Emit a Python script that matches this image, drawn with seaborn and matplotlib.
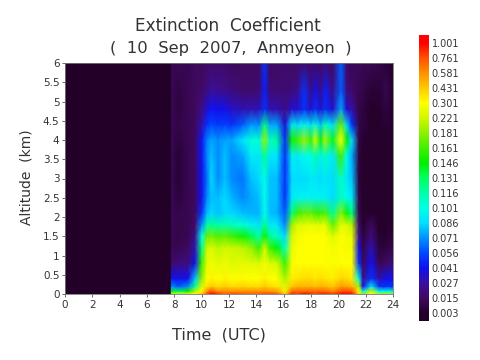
import numpy as np
import matplotlib
matplotlib.use("Agg")
import matplotlib.pyplot as plt
import seaborn as sns

sns.set_theme(style="ticks")
plt.rcParams['font.family'] = ['DejaVu Sans']

level_labels = ["0.003","0.015","0.027","0.041","0.056","0.071","0.086","0.101","0.116","0.131",
                "0.146","0.161","0.181","0.221","0.301","0.431","0.581","0.761","1.001"]
level_values = [float(v) for v in level_labels]
level_colors = ["#230029","#400a62","#3a10a0","#1010f0","#0048ff","#0090ff","#00e0ff","#00ffe8","#00ffa8","#00ff60",
                "#00f000","#40f000","#90f000","#d0f800","#ffff00","#ffc800","#ff9000","#ff5000","#ff0000"]

altitudes = [0,.07,.2,.4,.8,1.2,1.5,1.8,2.1,2.5,3,3.6,4,4.4,4.8,5.3,6]
times = [0,7.7,7.8,8.3,9,9.5,10,10.4,10.7,11.2,11.7,12.2,13,13.6,14.2,14.6,15,15.5,16.1,16.6,
         17,17.5,18,18.3,18.7,19,19.6,20.2,20.6,21,21.5,21.8,22.4,23,23.5,24]
bg = .003
profiles = [
 [bg]*17,
 [bg]*17,
 [.22,.14,.07,.04,.016,.012,.012,.012,.012,.012,.012,.012,.012,.012,.012,.012,.012],
 [.25,.13,.06,.04,.02,.012,.01,.01,.01,.008,.006,.006,.008,.01,.008,.009,.012],
 [.26,.15,.07,.04,.02,.015,.012,.012,.012,.012,.012,.012,.012,.012,.012,.012,.012],
 [.3,.2,.12,.08,.04,.03,.022,.016,.014,.014,.014,.014,.014,.014,.014,.014,.014],
 [.43,.3,.23,.18,.16,.125,.1,.07,.05,.04,.04,.042,.042,.03,.022,.016,.014],
 [.8,.6,.36,.3,.26,.22,.17,.115,.08,.07,.065,.07,.068,.05,.036,.021,.016],
 [1,.76,.43,.33,.28,.24,.175,.12,.085,.08,.085,.08,.075,.056,.042,.026,.016],
 [.9,.58,.38,.3,.25,.21,.165,.115,.08,.08,.07,.07,.07,.052,.04,.024,.016],
 [.7,.6,.42,.33,.27,.22,.17,.115,.085,.085,.08,.08,.075,.054,.04,.022,.016],
 [.8,.58,.38,.3,.24,.22,.16,.11,.085,.078,.07,.07,.075,.05,.034,.02,.014],
 [.75,.58,.4,.31,.26,.21,.15,.105,.08,.07,.065,.075,.088,.06,.03,.017,.015],
 [.7,.58,.38,.3,.25,.19,.135,.095,.078,.075,.08,.092,.105,.072,.03,.017,.015],
 [.75,.58,.38,.3,.24,.16,.115,.088,.078,.08,.085,.09,.105,.07,.032,.018,.015],
 [.8,.6,.43,.33,.28,.22,.15,.12,.1,.1,.1,.12,.19,.125,.05,.045,.05],
 [.8,.58,.38,.3,.24,.16,.12,.09,.08,.08,.08,.09,.11,.075,.03,.018,.015],
 [.75,.55,.36,.3,.23,.145,.11,.09,.078,.08,.08,.09,.12,.075,.03,.018,.016],
 [.43,.33,.24,.2,.16,.11,.085,.07,.06,.05,.05,.05,.05,.036,.022,.018,.018],
 [.9,.7,.43,.34,.28,.26,.23,.19,.125,.09,.085,.095,.15,.09,.035,.02,.015],
 [.8,.7,.48,.36,.3,.3,.28,.24,.16,.095,.085,.09,.16,.085,.035,.022,.016],
 [1,.7,.48,.38,.3,.3,.3,.25,.17,.095,.085,.1,.19,.095,.05,.05,.018],
 [.9,.7,.48,.38,.3,.3,.3,.27,.17,.095,.09,.1,.16,.085,.035,.022,.016],
 [.8,.7,.45,.36,.3,.3,.3,.26,.16,.095,.09,.115,.23,.105,.05,.04,.016],
 [.9,.72,.48,.38,.3,.3,.3,.25,.16,.095,.085,.095,.15,.08,.035,.022,.016],
 [.95,.7,.48,.36,.3,.3,.3,.27,.165,.095,.09,.11,.2,.11,.05,.045,.018],
 [.85,.6,.43,.34,.29,.28,.24,.17,.12,.085,.085,.09,.14,.085,.035,.022,.015],
 [1,.76,.55,.4,.3,.3,.3,.25,.18,.11,.11,.16,.3,.17,.075,.06,.06],
 [1,.8,.52,.38,.3,.28,.28,.24,.15,.1,.09,.1,.15,.085,.035,.022,.016],
 [.95,.76,.48,.35,.3,.28,.26,.2,.125,.09,.08,.075,.085,.05,.028,.016,.012],
 [.4,.3,.2,.1,.05,.04,.025,.018,.012,.01,.008,.008,.01,.01,.01,.012,.014],
 [.18,.1,.04,.025,.014,.01,.008,.005,.004,.004,.004,.004,.005,.008,.008,.01,.012],
 [.3,.22,.09,.05,.04,.03,.02,.014,.005,.004,.004,.004,.004,.004,.004,.006,.012],
 [.2,.1,.05,.03,.012,.007,.005,.004,.004,.004,.004,.004,.004,.004,.005,.006,.01],
 [.2,.1,.05,.04,.015,.008,.005,.004,.004,.004,.004,.004,.004,.006,.008,.012,.006],
 [.2,.11,.05,.04,.02,.012,.008,.005,.004,.004,.004,.004,.004,.004,.004,.004,.005],
]

extinction = np.array(profiles).T
steps = np.interp(extinction, level_values, np.arange(len(level_values)))

# colour scale: one colour per labelled step, black just below the first label
anchors = [(0.0, "#000000")] + [((i + 0.5) / 19, c) for i, c in enumerate(level_colors)] + [(1.0, "#ff0000")]
cmap = matplotlib.colors.LinearSegmentedColormap.from_list("ext", anchors, N=512)

fig = plt.figure(figsize=(4.8, 3.6), dpi=100, facecolor="white")
ax = fig.add_axes([65/480, 1-294/360, 328/480, 231/360])
ax.pcolormesh(times, altitudes, steps, cmap=cmap, vmin=-0.5, vmax=18.5, shading="gouraud", rasterized=True)
ax.set_xlim(0, 24)
ax.set_ylim(0, 6)
ax.set_xticks(np.arange(0, 25, 2))
ax.set_yticks(np.arange(0, 6.01, .5))
ax.set_yticklabels(["0","0.5","1","1.5","2","2.5","3","3.5","4","4.5","5","5.5","6"])
ax.tick_params(labelsize=7.5, length=2.5, width=.6, pad=1.5, color="#555555", labelcolor="#333333")
for s in ax.spines.values():
    s.set_linewidth(.6)
    s.set_color("#777777")

cax = fig.add_axes([419/480, 1-321/360, 10/480, 286/360])
cax.imshow(np.arange(19)[::-1].reshape(-1, 1), cmap=cmap, vmin=-0.5, vmax=18.5, aspect="auto",
           interpolation="bilinear", extent=[0, 1, -0.5, 18.5])
cax.set_xticks([])
cax.yaxis.tick_right()
cax.set_yticks(np.arange(19))
cax.set_yticklabels(level_labels)
cax.tick_params(axis="y", labelsize=7, length=0, pad=2, labelcolor="#333333")
for s in cax.spines.values():
    s.set_visible(False)

fig.text(228/480, 1-26/360, "Extinction  Coefficient", ha="center", va="center", fontsize=12.2, color="#333333")
fig.text(231/480, 1-48/360, "(  10  Sep  2007,  Anmyeon  )", ha="center", va="center", fontsize=11.8, color="#333333")
fig.text(219/480, 1-335/360, "Time  (UTC)", ha="center", va="center", fontsize=11.5, color="#333333")
fig.text(27/480, 1-177/360, "Altitude  (km)", ha="center", va="center", rotation=90, fontsize=10, color="#333333")
fig.savefig("out.png", dpi=100)
